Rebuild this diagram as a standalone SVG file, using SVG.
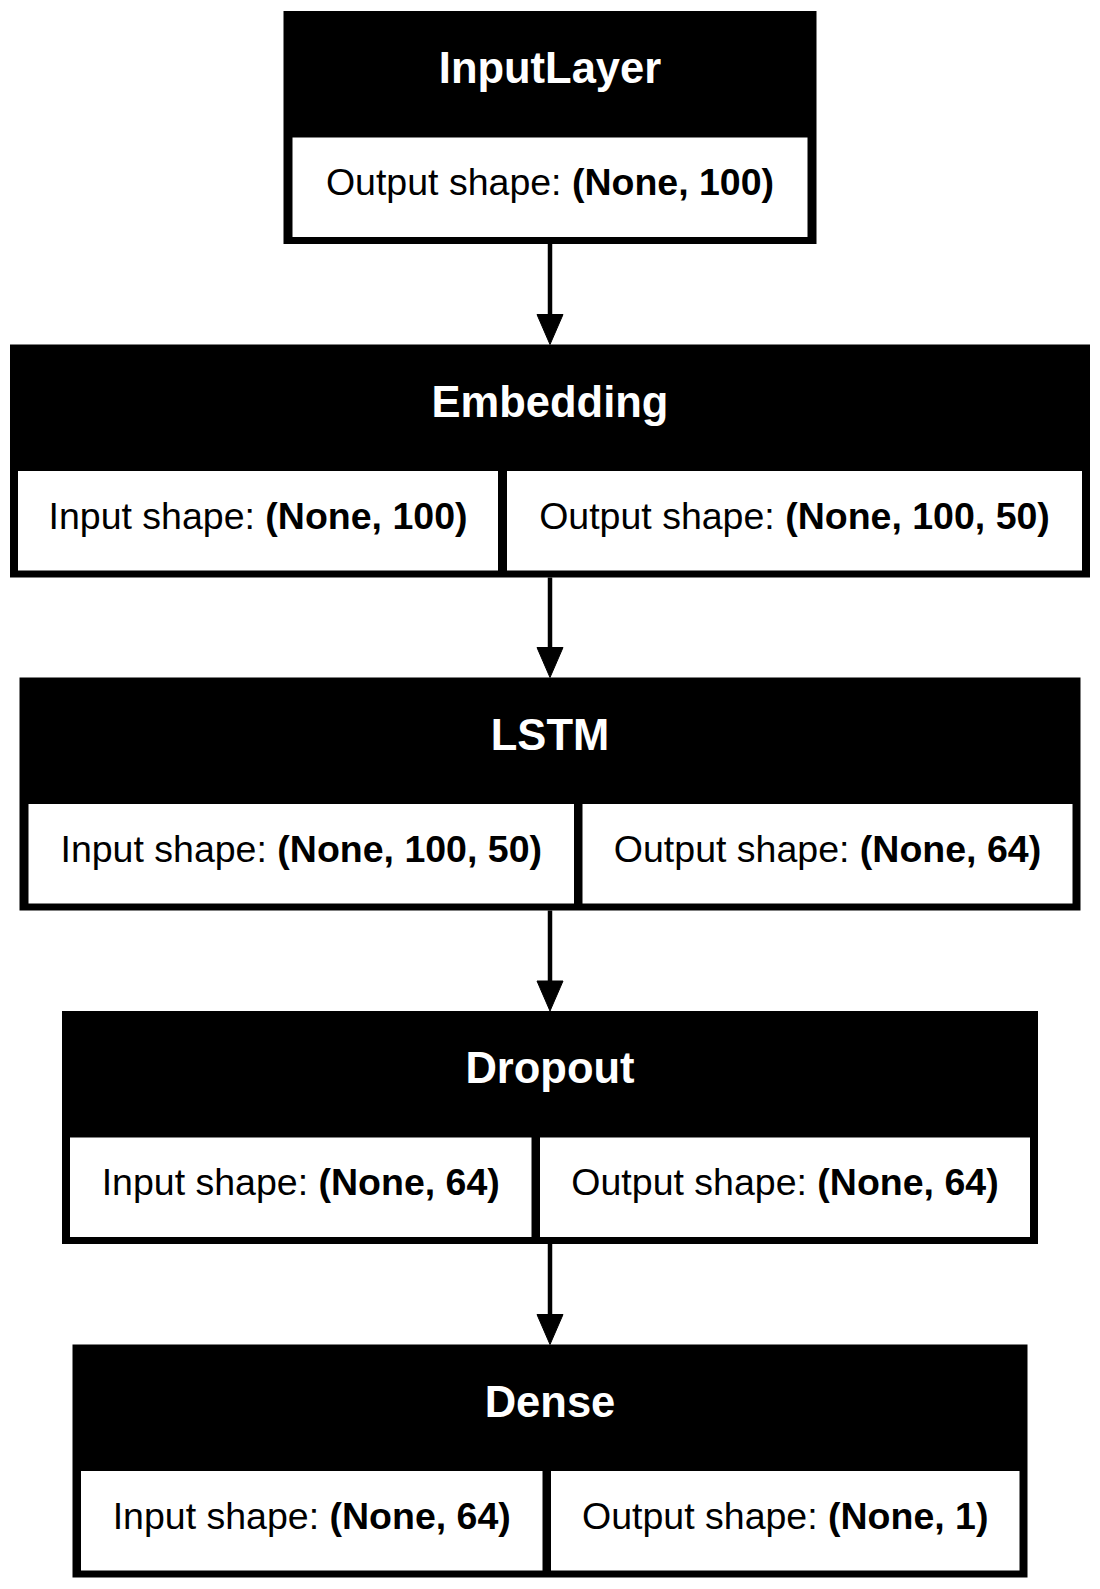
<svg xmlns="http://www.w3.org/2000/svg" width="1100" height="1589" viewBox="0 0 1100 1589">
<style>
.frame{fill:#000;}
.cell{fill:#fff;}
.hdr{font-family:"Liberation Sans",Arial,sans-serif;font-size:43.5px;font-weight:bold;fill:#fff;text-anchor:middle;}
.body{font-family:"Liberation Sans",Arial,sans-serif;font-size:37.5px;fill:#000;text-anchor:middle;}
.b{font-weight:bold;}
.edge{stroke:#000;stroke-width:4.5;fill:none;}
.head{fill:#000;stroke:#000;stroke-width:1;}
</style>
<rect width="1100" height="1589" fill="#fff"/>
<g id="connectors">
  <line class="edge" x1="550" y1="244" x2="550" y2="316"/>
  <polygon class="head" points="537,314.5 563,314.5 550,344.5"/>
  <line class="edge" x1="550" y1="577.5" x2="550" y2="649"/>
  <polygon class="head" points="537,647.5 563,647.5 550,677.5"/>
  <line class="edge" x1="550" y1="910.5" x2="550" y2="982.5"/>
  <polygon class="head" points="537,981 563,981 550,1011"/>
  <line class="edge" x1="550" y1="1244" x2="550" y2="1316"/>
  <polygon class="head" points="537,1314.5 563,1314.5 550,1344.5"/>
</g>
<g id="node-inputlayer">
  <rect class="frame" x="283.5" y="11" width="533" height="233"/>
  <rect class="cell" x="292.5" y="137.5" width="515" height="99.5"/>
  <text class="hdr" x="550" y="83">InputLayer</text>
  <text class="body" x="550" y="195">Output shape: <tspan class="b">(None, 100)</tspan></text>
</g>
<g id="node-embedding">
  <rect class="frame" x="10" y="344.5" width="1080" height="233"/>
  <rect class="cell" x="18" y="471" width="480" height="99.5"/>
  <rect class="cell" x="507" y="471" width="575" height="99.5"/>
  <text class="hdr" x="550" y="416.5">Embedding</text>
  <text class="body" x="258" y="528.5">Input shape: <tspan class="b">(None, 100)</tspan></text>
  <text class="body" x="794.5" y="528.5">Output shape: <tspan class="b">(None, 100, 50)</tspan></text>
</g>
<g id="node-lstm">
  <rect class="frame" x="19.5" y="677.5" width="1061" height="233"/>
  <rect class="cell" x="28.5" y="804" width="545.5" height="99.5"/>
  <rect class="cell" x="582.5" y="804" width="490" height="99.5"/>
  <text class="hdr" x="550" y="749.5">LSTM</text>
  <text class="body" x="301.25" y="861.5">Input shape: <tspan class="b">(None, 100, 50)</tspan></text>
  <text class="body" x="827.5" y="861.5">Output shape: <tspan class="b">(None, 64)</tspan></text>
</g>
<g id="node-dropout">
  <rect class="frame" x="62" y="1011" width="976" height="233"/>
  <rect class="cell" x="70" y="1137.5" width="461.5" height="99.5"/>
  <rect class="cell" x="540" y="1137.5" width="490" height="99.5"/>
  <text class="hdr" x="550" y="1083">Dropout</text>
  <text class="body" x="300.75" y="1195">Input shape: <tspan class="b">(None, 64)</tspan></text>
  <text class="body" x="785" y="1195">Output shape: <tspan class="b">(None, 64)</tspan></text>
</g>
<g id="node-dense">
  <rect class="frame" x="72.5" y="1344.5" width="955" height="233"/>
  <rect class="cell" x="81" y="1471" width="461.5" height="99.5"/>
  <rect class="cell" x="551" y="1471" width="468.5" height="99.5"/>
  <text class="hdr" x="550" y="1416.5">Dense</text>
  <text class="body" x="311.75" y="1528.5">Input shape: <tspan class="b">(None, 64)</tspan></text>
  <text class="body" x="785.25" y="1528.5">Output shape: <tspan class="b">(None, 1)</tspan></text>
</g>
</svg>
